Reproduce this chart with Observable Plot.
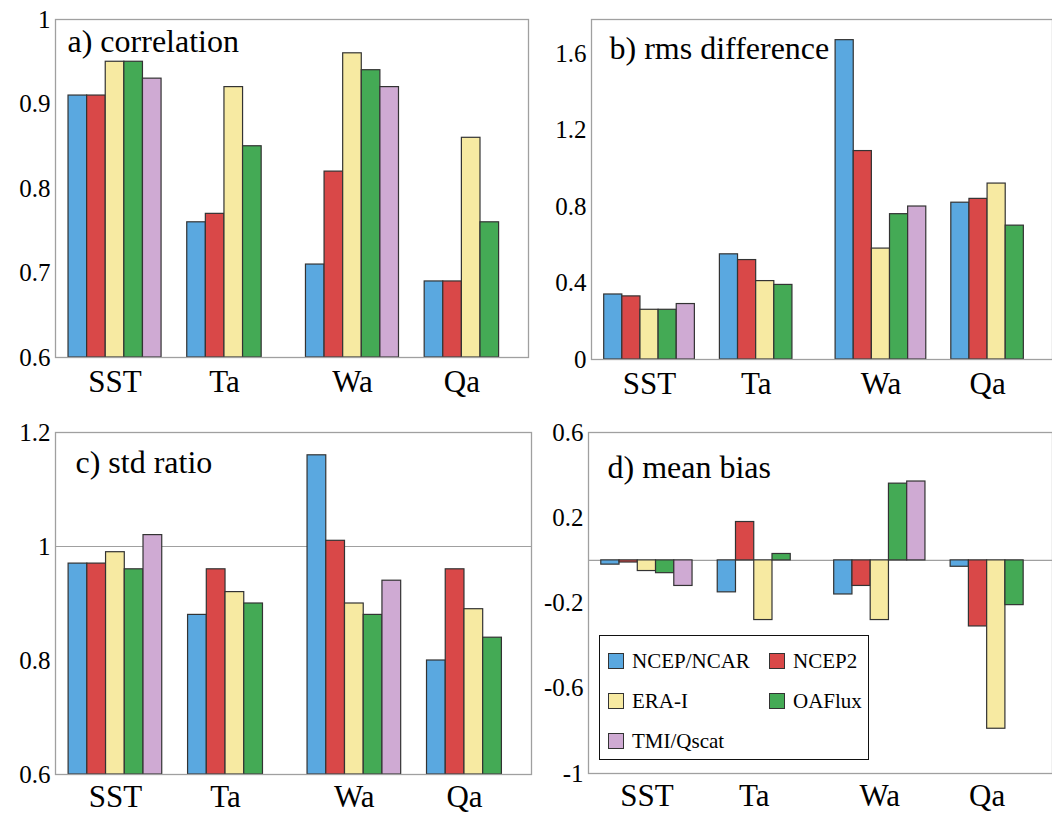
<!DOCTYPE html>
<html><head><meta charset="utf-8">
<script src="https://cdn.jsdelivr.net/npm/d3@7"></script>
<script src="https://cdn.jsdelivr.net/npm/@observablehq/plot@0.6"></script>
</head><body style="margin:0;font-family:'Liberation Serif'">
<div id="wrap" style="position:relative;width:1052px;height:815px;font-family:'Liberation Serif'"></div>
<script>
// categories and series
const variables = ["SST", "Ta", "Wa", "Qa"];
const models = ["NCEP/NCAR", "NCEP2", "ERA-I", "OAFlux", "TMI/Qscat"];
const colors = ["#5aa8e0", "#d94848", "#f7eaa2", "#44aa55", "#cfaad3"];

// values per variable, in model order (null = not available)
const correlation = [
  [0.91, 0.91, 0.95, 0.95, 0.93],
  [0.76, 0.77, 0.92, 0.85, null],
  [0.71, 0.82, 0.96, 0.94, 0.92],
  [0.69, 0.69, 0.86, 0.76, null]
];
const rmsDifference = [
  [0.34, 0.33, 0.26, 0.26, 0.29],
  [0.55, 0.52, 0.41, 0.39, null],
  [1.67, 1.09, 0.58, 0.76, 0.80],
  [0.82, 0.84, 0.92, 0.70, null]
];
const stdRatio = [
  [0.97, 0.97, 0.99, 0.96, 1.02],
  [0.88, 0.96, 0.92, 0.90, null],
  [1.16, 1.01, 0.90, 0.88, 0.94],
  [0.80, 0.96, 0.89, 0.84, null]
];
const meanBias = [
  [-0.02, -0.01, -0.05, -0.06, -0.12],
  [-0.15, 0.18, -0.28, 0.03, null],
  [-0.16, -0.12, -0.28, 0.36, 0.37],
  [-0.03, -0.31, -0.79, -0.21, null]
];

// tick labels
const corrTicks = [0.6, 0.7, 0.8, 0.9, 1];
const rmsTicks = [0, 0.4, 0.8, 1.2, 1.6];
const stdTicks = [0.6, 0.8, 1, 1.2];
const biasTicks = [-1, -0.6, -0.2, 0.2, 0.6];

const groupStep = 6.38;
const xDomain = [-0.7, 3 * groupStep + 5 + 0.58];
const fmt = d => String(Math.round(d * 10) / 10);
const wrap = document.getElementById("wrap");

function rowsOf(values) {
  const rows = [];
  values.forEach((vals, g) => vals.forEach((v, m) => {
    if (v != null) rows.push({variable: variables[g], model: models[m], g, m, value: v,
      x1: g * groupStep + m, x2: g * groupStep + m + 1});
  }));
  return rows;
}

function panel(o) {
  const rows = rowsOf(o.values);
  const labels = variables.map((v, g) => {
    const n = o.values[g].filter(d => d != null).length;
    return {name: v, x: g * groupStep + n / 2};
  });
  const chart = Plot.plot({
    width: o.width, height: o.height,
    marginLeft: o.ml, marginRight: o.mr, marginTop: o.mt, marginBottom: o.mb,
    style: {fontFamily: "Liberation Serif", overflow: "visible"},
    x: {type: "linear", domain: xDomain, axis: null},
    y: {domain: o.yDomain},
    color: {domain: models, range: colors},
    marks: [
      Plot.ruleY(o.grid || [], {stroke: "#a0a0a0", strokeWidth: 1.2}),
      Plot.rectY(rows, {x1: "x1", x2: "x2", y1: o.base, y2: "value", fill: "model", stroke: "#333", strokeWidth: 1.2}),
      Plot.frame({stroke: "#a0a0a0", strokeWidth: 1.3}),
      Plot.axisY(o.ticks, {tickSize: 0, tickPadding: 5, fontSize: 25, tickFormat: fmt, label: null}),
      Plot.text(labels, {x: "x", y: () => o.yDomain[0], text: "name", dy: o.ldy || 25, fontSize: 31, lineAnchor: "middle"}),
      Plot.text([o.title], {frameAnchor: "top-left", dx: o.tdx, dy: o.tdy, fontSize: 32, textAnchor: "start", lineAnchor: "middle"})
    ]
  });
  const div = document.createElement("div");
  div.style.position = "absolute";
  div.style.left = o.left + "px";
  div.style.top = o.top + "px";
  div.appendChild(chart);
  wrap.appendChild(div);
}

panel({values: correlation, yDomain: [0.6, 1], base: 0.6, ticks: corrTicks, title: "a) correlation",
  left: 0, top: 0, width: 530, height: 400, ml: 55, mr: 2, mt: 19, mb: 43, tdx: 12, tdy: 22});
panel({values: rmsDifference, yDomain: [0, 1.778], base: 0, ticks: rmsTicks, title: "b) rms difference",
  left: 530, top: 0, width: 522, height: 400, ml: 61, mr: 0, mt: 19, mb: 41, tdx: 18, tdy: 29});
panel({values: stdRatio, yDomain: [0.6, 1.2], base: 0.6, ticks: stdTicks, grid: [1], title: "c) std ratio",
  left: 0, top: 400, width: 532, height: 415, ml: 55, mr: 1, mt: 32, mb: 41, tdx: 20, tdy: 30, ldy: 23});
panel({values: meanBias, yDomain: [-1, 0.6], base: 0, ticks: biasTicks, grid: [0], title: "d) mean bias",
  left: 530, top: 400, width: 522, height: 415, ml: 58, mr: 0, mt: 32, mb: 42, tdx: 19, tdy: 35, ldy: 23});

// legend
const legendBox = document.createElement("div");
Object.assign(legendBox.style, {position: "absolute", left: "599px", top: "635px", width: "268px", height: "123px",
  border: "1.5px solid #111", background: "#fff", fontSize: "21px", fontFamily: "Liberation Serif"});
const cellPos = [[8, 25], [169, 25], [8, 65], [169, 65], [8, 105]];
models.forEach((m, i) => {
  const it = document.createElement("div");
  Object.assign(it.style, {position: "absolute", display: "flex", alignItems: "center", whiteSpace: "nowrap",
    left: cellPos[i][0] + "px", top: (cellPos[i][1] - 13) + "px", height: "26px"});
  const sw = document.createElement("div");
  Object.assign(sw.style, {width: "14px", height: "14px", border: "1px solid #333", marginRight: "8px", background: colors[i]});
  const tx = document.createElement("span");
  tx.textContent = m;
  it.appendChild(sw); it.appendChild(tx);
  legendBox.appendChild(it);
});
wrap.appendChild(legendBox);
</script>
</body></html>
